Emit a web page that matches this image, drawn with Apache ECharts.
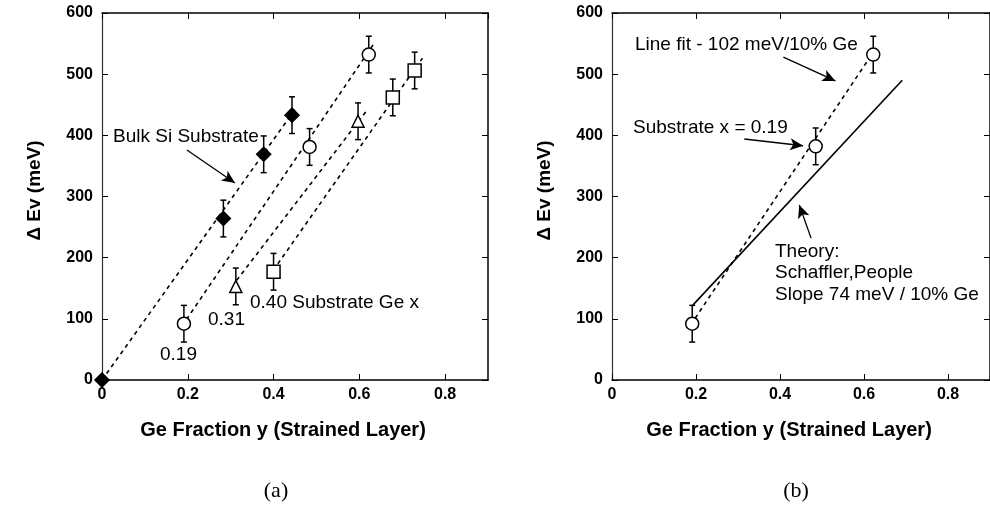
<!DOCTYPE html>
<html>
<head>
<meta charset="utf-8">
<script src="https://cdn.jsdelivr.net/npm/echarts@6/dist/echarts.min.js"></script>
<style>
html,body{margin:0;padding:0;background:#fff;}
#c{width:990px;height:510px;}
</style>
</head>
<body>
<div id="c"></div>
<script>
// ---------- data ----------
const xTickLabels = ['0', '0.2', '0.4', '0.6', '0.8'];
const yTickLabels = ['0', '100', '200', '300', '400', '500', '600'];

// panel (a)
const bulkSi   = [[0, 0], [0.283, 264], [0.377, 369], [0.443, 433]];
const sub019a  = [[0.191, 92], [0.484, 381], [0.622, 532]];
const sub031   = [[0.312, 153], [0.597, 423]];
const sub040   = [[0.400, 177], [0.678, 462], [0.729, 506]];
const errA     = 30; // half-height of error bars (meV)
const fitBulk  = [[0, 0], [0.455, 447]];
const fit019a  = [[0.197, 99], [0.634, 550]];
const fit031   = [[0.314, 163], [0.618, 441]];
const fit040   = [[0.410, 190], [0.747, 526]];

// panel (b)
const sub019b  = [[0.191, 92], [0.485, 382], [0.622, 532]];
const errB     = 30;
const fit019b  = [[0.198, 101], [0.632, 546]];
const theory   = [[0.192, 122], [0.691, 490]];

// annotation arrows (data coordinates: from -> to)
const arrowsA = [[[0.198, 376], [0.310, 322]]];
const arrowsB = [[[0.408, 528], [0.532, 489]], [[0.315, 394], [0.455, 383]], [[0.474, 232], [0.446, 286]]];

// ---------- chart ----------
const chart = echarts.init(document.getElementById('c'), null, {renderer: 'canvas'});
const FONT = 'Liberation Sans, Arial, sans-serif';

function xLabelFmt(v) {
  const s = String(Math.round(v * 10) / 10);
  return xTickLabels.indexOf(s) >= 0 ? s : '';
}
function yLabelFmt(v) {
  const s = String(Math.round(v));
  return yTickLabels.indexOf(s) >= 0 ? s : '';
}

function mainX(gi) {
  return {
    type: 'value', gridIndex: gi, min: 0, max: 0.9, interval: 0.2, position: 'bottom',
    name: 'Ge Fraction y (Strained Layer)', nameLocation: 'middle', nameGap: 40,
    nameTextStyle: {fontFamily: FONT, fontSize: 20, fontWeight: 'bold', color: '#000', padding: [0, 24, 0, 0]},
    axisLine: {show: true, onZero: false, lineStyle: {color: '#000', width: 1.5}},
    axisTick: {show: true, inside: true, length: 6, lineStyle: {color: '#000', width: 1}},
    axisLabel: {fontFamily: FONT, fontSize: 16, fontWeight: 'bold', color: '#000', margin: 7, formatter: xLabelFmt, showMaxLabel: false},
    splitLine: {show: false}
  };
}
function topX(gi) {
  return {
    type: 'value', gridIndex: gi, min: 0, max: 0.9, interval: 0.2, position: 'top',
    axisLine: {show: true, onZero: false, lineStyle: {color: '#000', width: 1.5}},
    axisTick: {show: true, inside: true, length: 6, lineStyle: {color: '#000', width: 1}},
    axisLabel: {show: false}, splitLine: {show: false}
  };
}
function mainY(gi) {
  return {
    type: 'value', gridIndex: gi, min: 0, max: 600, interval: 100, position: 'left',
    name: 'Δ Ev (meV)', nameLocation: 'middle', nameGap: 58, nameRotate: 90,
    nameTextStyle: {fontFamily: FONT, fontSize: 19, fontWeight: 'bold', color: '#000', padding: [0, 0, 0, 12]},
    axisLine: {show: true, onZero: false, lineStyle: {color: '#333', width: 1.2}},
    axisTick: {show: true, inside: true, length: 6, lineStyle: {color: '#000', width: 1}},
    axisLabel: {fontFamily: FONT, fontSize: 16, fontWeight: 'bold', color: '#000', margin: 9, formatter: yLabelFmt},
    splitLine: {show: false}
  };
}
function rightY(gi) {
  return {
    type: 'value', gridIndex: gi, min: 0, max: 600, interval: 100, position: 'right',
    axisLine: {show: true, onZero: false, lineStyle: {color: '#000', width: 1.5}},
    axisTick: {show: true, inside: true, length: 6, lineStyle: {color: '#000', width: 1}},
    axisLabel: {show: false}, splitLine: {show: false}
  };
}

function dashed(data, xi, yi) {
  return {type: 'line', xAxisIndex: xi, yAxisIndex: yi, data: data, symbol: 'none',
    lineStyle: {color: '#000', width: 1.6, type: [4, 4]}, silent: true, z: 2, animation: false};
}
function solid(data, xi, yi) {
  return {type: 'line', xAxisIndex: xi, yAxisIndex: yi, data: data, symbol: 'none',
    lineStyle: {color: '#000', width: 1.6}, silent: true, z: 2, animation: false};
}
function pts(data, xi, yi, symbol, size, filled) {
  return {type: 'scatter', xAxisIndex: xi, yAxisIndex: yi, data: data, symbol: symbol, symbolSize: size,
    itemStyle: {color: filled ? '#000' : '#fff', borderColor: '#000', borderWidth: 1.5, opacity: 1},
    z: 5, animation: false, silent: true};
}
function errBars(data, err, xi, yi) {
  return {
    type: 'custom', xAxisIndex: xi, yAxisIndex: yi, data: data, z: 3, silent: true, animation: false,
    renderItem: function (params, api) {
      const x = api.value(0), y = api.value(1);
      const lo = api.coord([x, y - err]);
      const hi = api.coord([x, y + err]);
      const cap = 3;
      const st = {stroke: '#000', lineWidth: 1.5};
      return {type: 'group', children: [
        {type: 'line', shape: {x1: lo[0], y1: lo[1], x2: hi[0], y2: hi[1]}, style: st},
        {type: 'line', shape: {x1: lo[0] - cap, y1: lo[1], x2: lo[0] + cap, y2: lo[1]}, style: st},
        {type: 'line', shape: {x1: hi[0] - cap, y1: hi[1], x2: hi[0] + cap, y2: hi[1]}, style: st}
      ]};
    }
  };
}
function arrows(list, xi, yi) {
  return {
    type: 'line', xAxisIndex: xi, yAxisIndex: yi, data: [], silent: true, animation: false,
    markLine: {
      silent: true, animation: false, symbolSize: [9, 13],
      label: {show: false},
      lineStyle: {color: '#000', width: 1.3, type: 'solid'},
      data: list.map(a => [
        {coord: a[0], symbol: 'none'},
        {coord: a[1], symbol: 'arrow'}
      ])
    }
  };
}

function label(x, y, s) {
  return {type: 'text', x: x, y: y, silent: true,
    style: {text: s, fontFamily: FONT, fontSize: 19, fill: '#000', verticalAlign: 'middle'}};
}

const option = {
  backgroundColor: '#fff',
  animation: false,
  grid: [
    {left: 102, top: 13, width: 386, height: 367},
    {left: 612, top: 13, width: 386, height: 367}
  ],
  xAxis: [mainX(0), topX(0), mainX(1), topX(1)],
  yAxis: [mainY(0), rightY(0), mainY(1), rightY(1)],
  series: [
    dashed(fitBulk, 0, 0), dashed(fit019a, 0, 0), dashed(fit031, 0, 0), dashed(fit040, 0, 0),
    errBars(bulkSi.slice(1), errA, 0, 0), errBars(sub019a, errA, 0, 0), errBars(sub031, errA, 0, 0), errBars(sub040, errA, 0, 0),
    pts(bulkSi, 0, 0, 'diamond', 14, true),
    pts(sub019a, 0, 0, 'circle', 13, false),
    pts(sub031, 0, 0, 'triangle', 12, false),
    pts(sub040, 0, 0, 'rect', 13, false),
    arrows(arrowsA, 0, 0),

    dashed(fit019b, 2, 2), solid(theory, 2, 2),
    errBars(sub019b, errB, 2, 2),
    pts(sub019b, 2, 2, 'circle', 13, false),
    arrows(arrowsB, 2, 2)
  ],
  graphic: [
    label(113, 137, 'Bulk Si Substrate'),
    label(160, 355, '0.19'),
    label(208, 320, '0.31'),
    label(250, 303, '0.40 Substrate Ge x'),
    label(635, 45, 'Line fit - 102 meV/10% Ge'),
    label(633, 128, 'Substrate x = 0.19'),
    label(775, 252, 'Theory:'),
    label(775, 273, 'Schaffler,People'),
    label(775, 295, 'Slope 74 meV / 10% Ge'),
    {type: 'text', x: 276, y: 491, silent: true, style: {text: '(a)', fontFamily: 'Liberation Serif, Times New Roman, serif', fontSize: 22, fill: '#000', align: 'center', verticalAlign: 'middle'}},
    {type: 'text', x: 796, y: 491, silent: true, style: {text: '(b)', fontFamily: 'Liberation Serif, Times New Roman, serif', fontSize: 22, fill: '#000', align: 'center', verticalAlign: 'middle'}}
  ]
};
chart.setOption(option);
</script>
</body>
</html>
